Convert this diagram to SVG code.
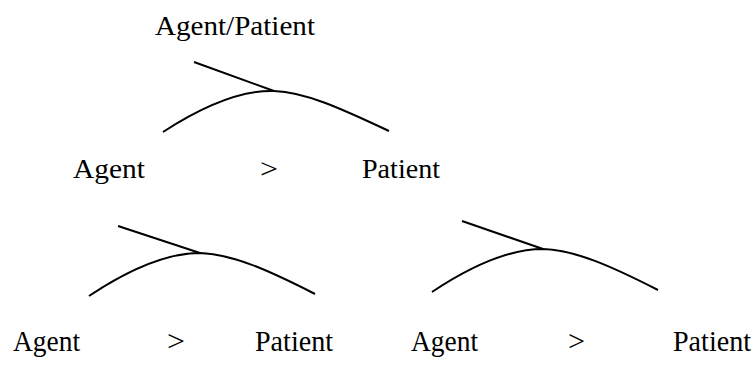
<svg xmlns="http://www.w3.org/2000/svg" width="756" height="365" viewBox="0 0 756 365">
<style>
text{font-family:"Liberation Serif","Times New Roman",serif;fill:#000}
.t{font-size:28px}
.b{font-size:29px}
.e{fill:none;stroke:#000;stroke-width:2}
</style>
<rect width="756" height="365" fill="#fff"/>
<g id="root"><text class="t" x="155" y="35" textLength="160" lengthAdjust="spacingAndGlyphs">Agent/Patient</text></g>
<g id="mid-agent"><text class="t" x="73" y="178" textLength="72" lengthAdjust="spacingAndGlyphs">Agent</text></g>
<g id="mid-gt"><text class="t" x="260" y="178" textLength="18" lengthAdjust="spacingAndGlyphs">&gt;</text></g>
<g id="mid-patient"><text class="t" x="362" y="178" textLength="78" lengthAdjust="spacingAndGlyphs">Patient</text></g>
<g id="bl-agent"><text class="b" x="13" y="351" textLength="67" lengthAdjust="spacingAndGlyphs">Agent</text></g>
<g id="bl-gt"><text class="b" x="167" y="351" textLength="18" lengthAdjust="spacingAndGlyphs">&gt;</text></g>
<g id="bl-patient"><text class="b" x="255" y="351" textLength="78" lengthAdjust="spacingAndGlyphs">Patient</text></g>
<g id="br-agent"><text class="b" x="411" y="351" textLength="67" lengthAdjust="spacingAndGlyphs">Agent</text></g>
<g id="br-gt"><text class="b" x="568" y="351" textLength="17" lengthAdjust="spacingAndGlyphs">&gt;</text></g>
<g id="br-patient"><text class="b" x="673" y="351" textLength="78" lengthAdjust="spacingAndGlyphs">Patient</text></g>
<g id="connectors">
<path class="e" d="M194,62 L274,91"/>
<path class="e" d="M163,132 C200,108 240,90 274,91 C305,92 340,108 389,131"/>
<path class="e" d="M118,226 L200,253"/>
<path class="e" d="M89,296 C125,272 165,253 200,253 C232,254 268,270 315,294"/>
<path class="e" d="M462,221 L543,249"/>
<path class="e" d="M432,292 C468,268 508,249 543,249 C575,250 611,266 658,290"/>
</g>
</svg>
